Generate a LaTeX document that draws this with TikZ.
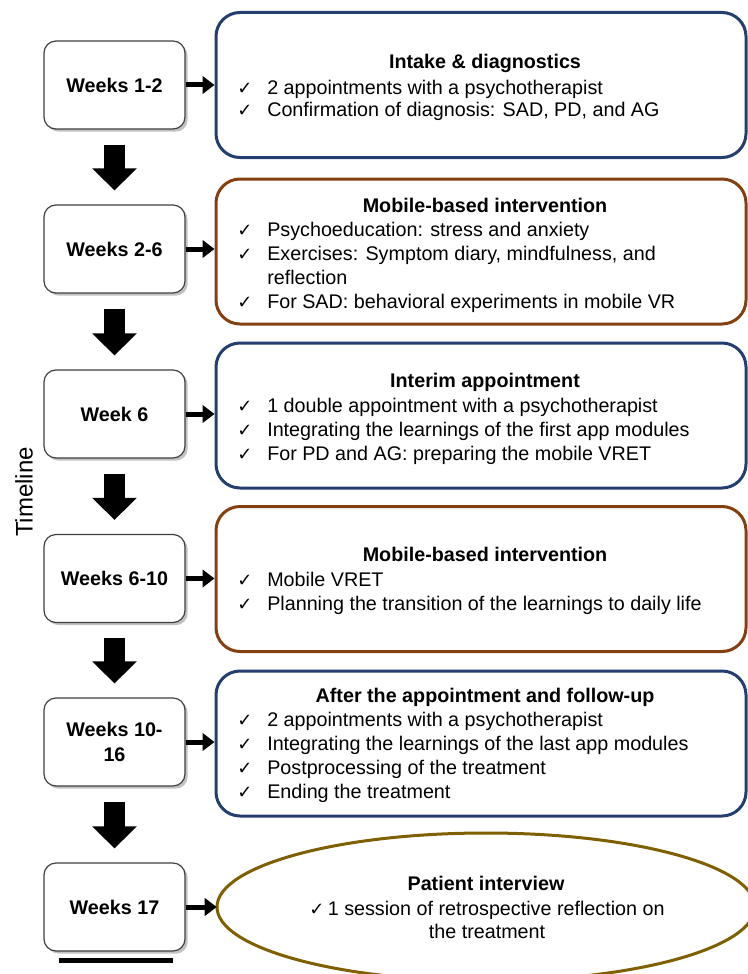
\documentclass[tikz,border=0pt]{standalone}
\usepackage{fontspec}
\setmainfont{Liberation Sans}
\newfontfamily\ckfont{DejaVu Sans}
\usetikzlibrary{shapes.geometric,shadows,arrows.meta}
\definecolor{boxblue}{RGB}{36,62,112}
\definecolor{boxbrown}{RGB}{133,64,18}
\definecolor{boxolive}{RGB}{127,96,0}
\newcommand{\cksym}{{\ckfont\fontsize{13.5}{13.5}\selectfont ✓}}
\newcommand{\ck}{\makebox[22.5pt][l]{\cksym}}
\begin{document}
\begin{tikzpicture}[x=0.75pt,y=-0.75pt,
 every node/.style={font=\fontsize{14.8}{18}\selectfont, inner sep=0pt},
 weekbox/.style={draw=black!75, line width=0.9pt, fill=white, rounded corners=9pt,
   minimum width=105.75pt, minimum height=66pt, align=center,
   font=\fontsize{14.8}{18.5}\selectfont\bfseries,
   drop shadow={shadow xshift=2pt, shadow yshift=-2pt, fill=black!40, opacity=0.6}},
 phasebox/.style={line width=2.25pt, fill=white, rounded corners=18pt,
   minimum width=397.5pt, minimum height=108.75pt},
 ptitle/.style={font=\fontsize{14.8}{18}\selectfont\bfseries, anchor=base},
 pline/.style={anchor=base west},
 harrow/.style={line width=3.75pt, -{Triangle[length=9pt,width=13pt]}},
 varrow/.style={line width=15.75pt, -{Triangle[length=16.5pt,width=32.5pt]}},
]
\useasboundingbox (0,0) rectangle (748,974);

% week boxes
\node[weekbox] (w1) at (114.5,85) {Weeks 1-2};
\node[weekbox] (w2) at (114.5,249) {Weeks 2-6};
\node[weekbox] (w3) at (114.5,414) {Week 6};
\node[weekbox] (w4) at (114.5,578.5) {Weeks 6-10};
\node[weekbox] (w5) at (114.5,742) {Weeks 10-\\16};
\node[weekbox] (w6) at (114.5,907) {Weeks 17};

% phase boxes
\node[phasebox, draw=boxblue] (p1) at (481,85) {};
\node[phasebox, draw=boxbrown] (p2) at (481,251.5) {};
\node[phasebox, draw=boxblue] (p3) at (481,415.5) {};
\node[phasebox, draw=boxbrown] (p4) at (481,579) {};
\node[phasebox, draw=boxblue] (p5) at (481,743.5) {};
\node[ellipse, minimum width=403.5pt, minimum height=111pt] (p6) at (486,907) {};
\draw[boxolive, line width=2.25pt, fill=white] (p6.center) ellipse [x radius=201.75pt, y radius=55.5pt];

% texts box 1
\node[ptitle] (t1) at (485,69) {Intake \& diagnostics};
\node[pline] (t1a) at (237,94) {\ck 2 appointments with a psychotherapist};
\node[pline] (t1b) at (237,117) {\ck Confirmation of diagnosis: SAD, PD, and AG};

% box 2
\node[ptitle] (t2) at (485,212) {Mobile-based intervention};
\node[pline] (t2a) at (237,236) {\ck Psychoeducation: stress and anxiety};
\node[pline] (t2b) at (237,260) {\ck Exercises: Symptom diary, mindfulness, and};
\node[pline] (t2c) at (237,284) {\hspace{22.5pt}reflection};
\node[pline] (t2d) at (237,308) {\ck For SAD: behavioral experiments in mobile VR};

% box 3
\node[ptitle] (t3) at (485,387) {Interim appointment};
\node[pline] (t3a) at (237,412) {\ck 1 double appointment with a psychotherapist};
\node[pline] (t3b) at (237,436) {\ck Integrating the learnings of the first app modules};
\node[pline] (t3c) at (237,460) {\ck For PD and AG: preparing the mobile VRET};

% box 4
\node[ptitle] (t4) at (485,561) {Mobile-based intervention};
\node[pline] (t4a) at (237,586) {\ck Mobile VRET};
\node[pline] (t4b) at (237,610) {\ck Planning the transition of the learnings to daily life};

% box 5
\node[ptitle] (t5) at (485,702) {After the appointment and follow-up};
\node[pline] (t5a) at (237,726) {\ck 2 appointments with a psychotherapist};
\node[pline] (t5b) at (237,750) {\ck Integrating the learnings of the last app modules};
\node[pline] (t5c) at (237,774) {\ck Postprocessing of the treatment};
\node[pline] (t5d) at (237,798) {\ck Ending the treatment};

% ellipse
\node[ptitle] (t6) at (486,890) {Patient interview};
\node[anchor=base] (t6a) at (487,915) {\cksym\,1 session of retrospective reflection on};
\node[anchor=base] (t6b) at (487,938) {the treatment};

% timeline
\node[rotate=90, font=\fontsize{18}{18}\selectfont] (tl) at (24,492) {Timeline};

% horizontal arrows
\draw[harrow] (w1.east) -- (w1.east -| p1.west);
\draw[harrow] (w2.east) -- (w2.east -| p2.west);
\draw[harrow] (w3.east) -- (w3.east -| p3.west);
\draw[harrow] (w4.east) -- (w4.east -| p4.west);
\draw[harrow] (w5.east) -- (w5.east -| p5.west);
\draw[harrow] (w6.east) -- (p6.west);

% vertical arrows
\draw[varrow] ([yshift=-11.25pt]w1.south) -- ([yshift=10.5pt]w2.north);
\draw[varrow] ([yshift=-11.25pt]w2.south) -- ([yshift=10.5pt]w3.north);
\draw[varrow] ([yshift=-11.25pt]w3.south) -- ([yshift=10.5pt]w4.north);
\draw[varrow] ([yshift=-11.25pt]w4.south) -- ([yshift=10.5pt]w5.north);
\draw[varrow] ([yshift=-11.25pt]w5.south) -- ([yshift=10.5pt]w6.north);

% bar under last box
\coordinate (b1) at (59,960.5);
\coordinate (b2) at (173,960.5);
\draw[line width=3.75pt] (b1) -- (b2);
\end{tikzpicture}
\end{document}
